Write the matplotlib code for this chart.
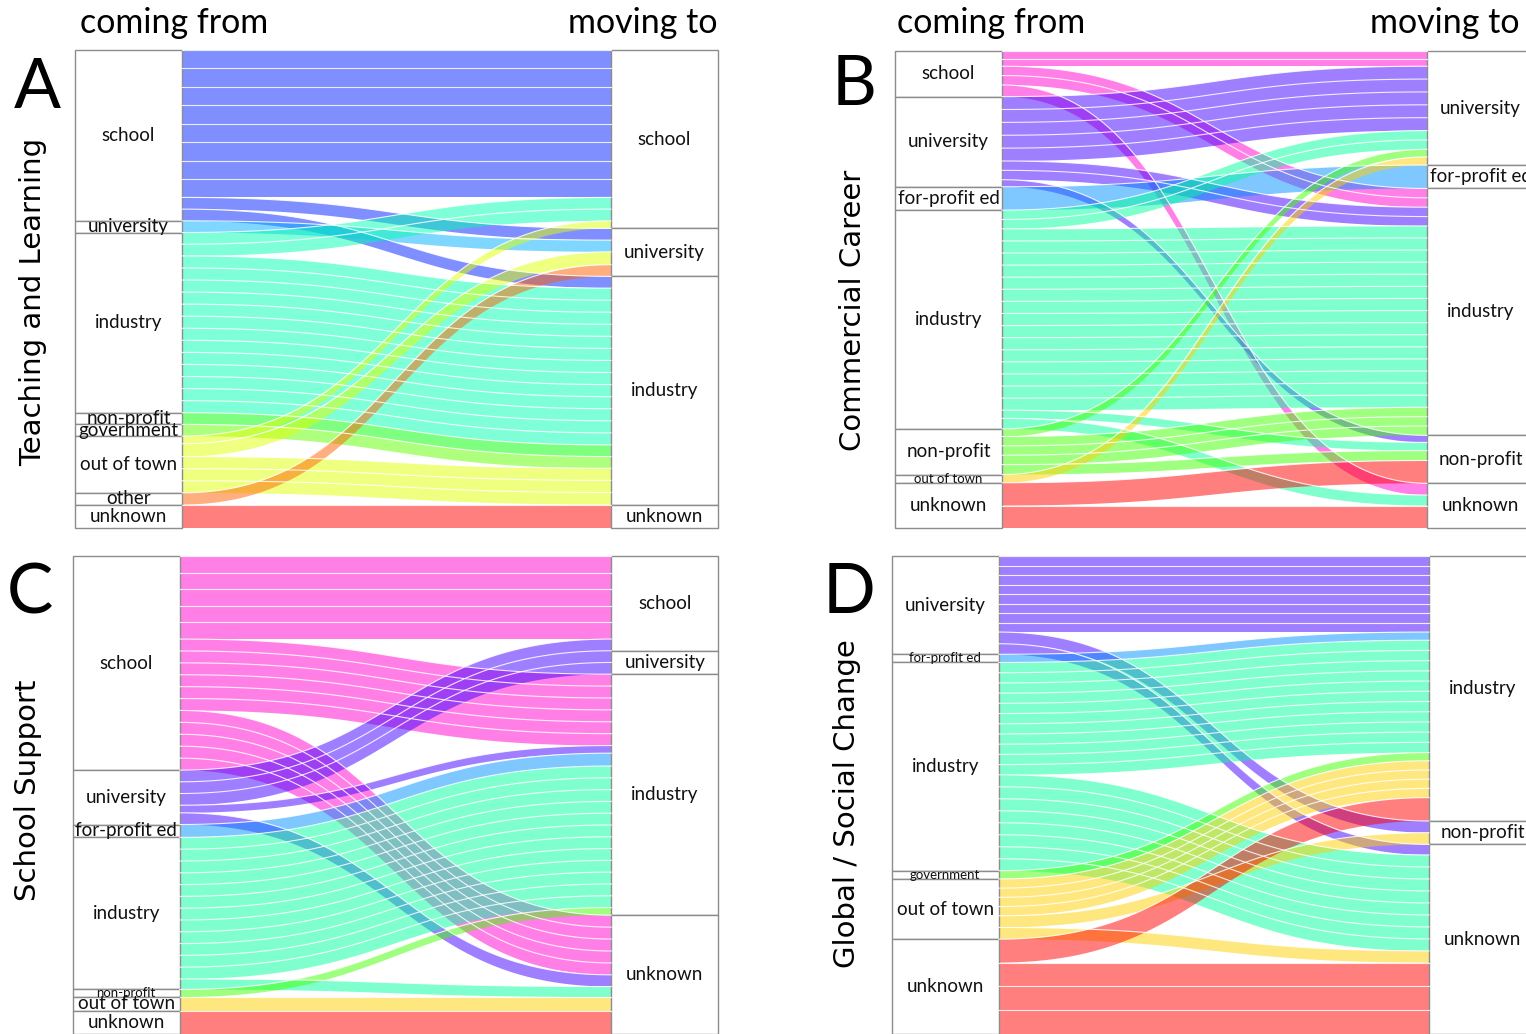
import numpy as np
import matplotlib.pyplot as plt
from matplotlib.patches import Rectangle, Polygon

W, H = 1526, 1034
PX = 11.7     # pixel height of one unit of flow
BOX = 107     # pixel width of the category columns

# ---- A: Teaching and Learning ----
a_from = ['school', 'university', 'industry', 'non-profit', 'government',
          'out of town', 'other', 'unknown']
a_to = ['school', 'university', 'industry', 'unknown']
a_src = ['school', 'school', 'school', 'university', 'industry', 'industry',
         'non-profit', 'government', 'out of town', 'out of town', 'out of town',
         'other', 'unknown']
a_dst = ['school', 'university', 'industry', 'university', 'school', 'industry',
         'industry', 'industry', 'school', 'university', 'industry',
         'university', 'unknown']
a_val = [12.6, 1.0, 1.0, 1.0, 2.0, 13.4, 1.0, 1.0, 0.65, 1.1, 3.1, 1.0, 2.0]
a_parts = [8, 1, 1, 1, 2, 13, 1, 1, 1, 1, 3, 1, 1]
a_colors = {'school': '#0020ff', 'university': '#00b0ff', 'industry': '#00ffb0',
            'non-profit': '#00ff00', 'government': '#60ff00',
            'out of town': '#e0ff00', 'other': '#ff6000', 'unknown': '#ff0000'}

# ---- B: Commercial Career ----
b_from = ['school', 'university', 'for-profit ed', 'industry', 'non-profit',
          'out of town', 'unknown']
b_to = ['university', 'for-profit ed', 'industry', 'non-profit', 'unknown']
b_src = ['school', 'school', 'school', 'university', 'university', 'university',
         'for-profit ed', 'industry', 'industry', 'industry', 'industry',
         'non-profit', 'non-profit', 'non-profit', 'out of town',
         'unknown', 'unknown']
b_dst = ['university', 'industry', 'unknown', 'university', 'industry', 'non-profit',
         'for-profit ed', 'university', 'industry', 'non-profit', 'unknown',
         'university', 'industry', 'non-profit', 'university',
         'non-profit', 'unknown']
b_val = [1.3, 1.6, 1.0, 5.5, 1.6, 0.6, 2.0, 1.6, 15.5, 0.7, 0.9,
         0.65, 2.4, 0.85, 0.7, 1.95, 1.95]
b_parts = [2, 2, 1, 5, 2, 1, 1, 2, 15, 1, 1, 1, 3, 1, 1, 1, 1]

# ---- C: School Support ----
c_from = ['school', 'university', 'for-profit ed', 'industry', 'non-profit',
          'out of town', 'unknown']
c_to = ['school', 'university', 'industry', 'unknown']
c_src = ['school', 'school', 'school', 'university', 'university', 'university',
         'university', 'for-profit ed', 'industry', 'industry', 'non-profit',
         'out of town', 'unknown']
c_dst = ['school', 'industry', 'unknown', 'school', 'university', 'industry',
         'unknown', 'industry', 'industry', 'unknown', 'industry',
         'unknown', 'unknown']
c_val = [7.1, 6.1, 5.1, 1.0, 2.0, 0.65, 1.0, 1.1, 12.1, 0.9, 0.65, 1.15, 2.0]
c_parts = [5, 6, 5, 1, 2, 1, 1, 1, 12, 1, 1, 1, 1]

# ---- D: Global / Social Change ----
d_from = ['university', 'for-profit ed', 'industry', 'government',
          'out of town', 'unknown']
d_to = ['industry', 'non-profit', 'unknown']
d_src = ['university', 'university', 'university', 'for-profit ed', 'industry',
         'industry', 'government', 'out of town', 'out of town', 'out of town',
         'unknown', 'unknown']
d_dst = ['industry', 'non-profit', 'unknown', 'industry', 'industry', 'unknown',
         'industry', 'industry', 'non-profit', 'unknown', 'industry', 'unknown']
d_val = [6.5, 1.0, 0.9, 0.7, 9.6, 8.2, 0.7, 3.15, 1.0, 1.0, 2.0, 6.1]
d_parts = [8, 1, 1, 1, 11, 8, 1, 4, 1, 1, 1, 3]

bcd_colors = {'school': '#ff00d0', 'university': '#4000ff',
              'for-profit ed': '#0090ff', 'industry': '#00ff9c',
              'non-profit': '#40ff00', 'government': '#40ff00',
              'out of town': '#ffd000', 'unknown': '#ff0000'}

LABEL_FONT = 'Lato'

fig = plt.figure(figsize=(W / 100, H / 100), dpi=100)


def draw_panel(left, top, width, cats_from, cats_to, src, dst, val, parts, colors):
    total = sum(val)
    height = total * PX
    ax = fig.add_axes([left / W, 1 - (top + height) / H, width / W, height / H])
    ax.set_xlim(0, 1)
    ax.set_ylim(total, 0)
    ax.set_axis_off()
    bw = BOX / width
    idx = range(len(val))

    # stacking order at each end
    lo = sorted(idx, key=lambda i: (cats_from.index(src[i]), cats_to.index(dst[i])))
    ro = sorted(idx, key=lambda i: (cats_to.index(dst[i]), cats_from.index(src[i])))
    y_l, y_r = {}, {}
    y = 0.0
    for i in lo:
        y_l[i] = y
        y += val[i]
    y = 0.0
    for i in ro:
        y_r[i] = y
        y += val[i]

    t = np.linspace(0, 1, 120)
    x0, x1 = bw, 1 - bw
    xm = (x0 + x1) / 2
    xs = (1 - t) ** 3 * x0 + 3 * (1 - t) ** 2 * t * xm + 3 * (1 - t) * t ** 2 * xm + t ** 3 * x1
    s = 3 * t ** 2 - 2 * t ** 3

    for i in lo:
        edge = y_l[i] + (y_r[i] - y_l[i]) * s
        pts = np.vstack([np.column_stack([xs, edge]),
                         np.column_stack([xs[::-1], (edge + val[i])[::-1]])])
        ax.add_patch(Polygon(pts, closed=True, facecolor=colors[src[i]],
                             alpha=0.5, edgecolor='none'))
        for k in range(parts[i]):
            ax.plot(xs, edge + val[i] * k / parts[i], color='white', lw=0.8, alpha=0.85)

    # category boxes with labels
    for cats, key, bx in ((cats_from, src, 0), (cats_to, dst, 1 - bw)):
        y = 0.0
        for c in cats:
            h = sum(v for v, k in zip(val, key) if k == c)
            ax.add_patch(Rectangle((bx, y), bw, h, facecolor='white',
                                   edgecolor='#8c8c8c', lw=1.0, clip_on=False))
            fs = 13.5 if h * PX >= 10 else 9.5
            ax.text(bx + bw / 2, y + h / 2, c, ha='center', va='center',
                    fontsize=fs, family=LABEL_FONT, color='#111111', clip_on=False)
            y += h
    return ax


draw_panel(75, 50, 643, a_from, a_to, a_src, a_dst, a_val, a_parts, a_colors)
draw_panel(895, 51, 639, b_from, b_to, b_src, b_dst, b_val, b_parts, bcd_colors)
draw_panel(72.7, 556, 645.6, c_from, c_to, c_src, c_dst, c_val, c_parts, bcd_colors)
draw_panel(891.7, 556, 644.3, d_from, d_to, d_src, d_dst, d_val, d_parts, bcd_colors)


def ftext(x, y, s, **kw):
    fig.text(x / W, 1 - y / H, s, **kw)


# column headers
for xl, xr in ((80, 718), (897, 1520)):
    ftext(xl, 33, 'coming from', ha='left', va='baseline', fontsize=24.5, family=LABEL_FONT)
    ftext(xr, 33, 'moving to', ha='right', va='baseline', fontsize=24.5, family=LABEL_FONT)

# panel letters
for x, y, s in ((37, 108, 'A'), (854, 105, 'B'), (30, 613, 'C'), (849, 613, 'D')):
    ftext(x, y, s, ha='center', va='baseline', fontsize=50, family=LABEL_FONT)

# panel titles
for x, y, s in ((33, 302, 'Teaching and Learning'), (853, 310, 'Commercial Career'),
                (28, 790, 'School Support'), (847, 804, 'Global / Social Change')):
    ftext(x, y, s, ha='center', va='center', rotation=90, fontsize=21,
          family='DejaVu Sans')

fig.savefig('out.png', dpi=100, facecolor='white')
